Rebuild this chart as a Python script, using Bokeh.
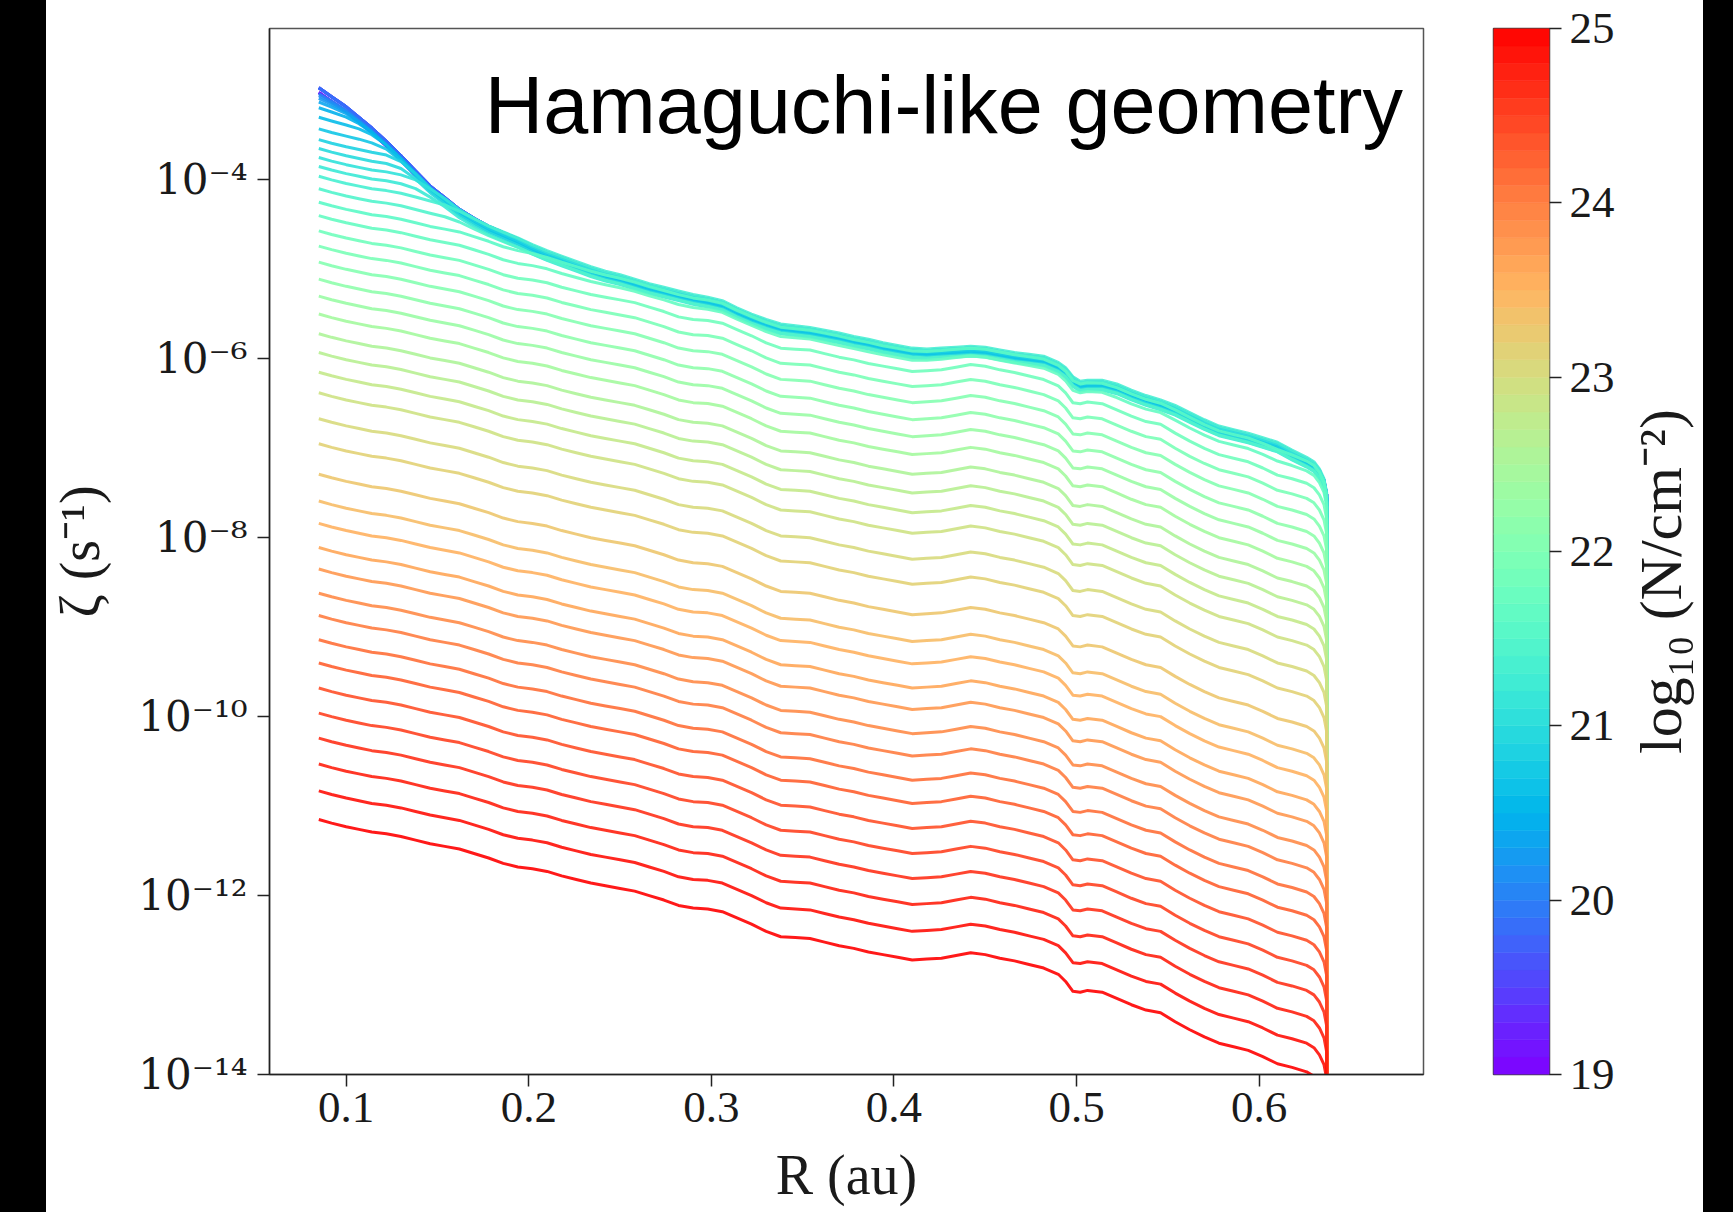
import numpy as np
from bokeh.plotting import figure
from bokeh.models import (FixedTicker, CustomJSTickFormatter, Label, Div,
                          ColumnDataSource, Range1d)
from bokeh.layouts import row
from bokeh.embed import file_html
from bokeh.resources import INLINE

# ---------------- data ----------------
# common radius grid (au)
R_AU = [0.085, 0.092, 0.100, 0.107, 0.114, 0.122, 0.130, 0.138, 0.146, 0.154,
        0.162, 0.170, 0.178, 0.186, 0.194, 0.202, 0.210, 0.218, 0.226, 0.234,
        0.242, 0.250, 0.258, 0.266, 0.274, 0.282, 0.290, 0.298, 0.306, 0.314,
        0.322, 0.330, 0.338, 0.346, 0.354, 0.362, 0.370, 0.378, 0.386, 0.394,
        0.402, 0.410, 0.418, 0.426, 0.434, 0.442, 0.450, 0.458, 0.466, 0.474,
        0.482, 0.490, 0.494, 0.498, 0.502, 0.506, 0.514, 0.522, 0.530, 0.538,
        0.546, 0.554, 0.562, 0.570, 0.578, 0.586, 0.594, 0.602, 0.610, 0.618,
        0.626]

# log10 zeta of the deepest curve (log10 N = 25) along R_AU
LOGZETA_DEEPEST = [-11.15, -11.19, -11.23, -11.26, -11.29, -11.31, -11.34, -11.38, -11.42, -11.45,
                   -11.48, -11.53, -11.58, -11.64, -11.68, -11.70, -11.73, -11.78, -11.82, -11.86,
                   -11.89, -11.92, -11.95, -12.00, -12.05, -12.11, -12.14, -12.15, -12.18, -12.25,
                   -12.32, -12.40, -12.46, -12.47, -12.48, -12.52, -12.56, -12.59, -12.63, -12.66,
                   -12.69, -12.72, -12.71, -12.70, -12.67, -12.64, -12.66, -12.70, -12.73, -12.77,
                   -12.81, -12.88, -12.96, -13.07, -13.08, -13.06, -13.08, -13.15, -13.22, -13.28,
                   -13.31, -13.41, -13.50, -13.58, -13.65, -13.69, -13.73, -13.80, -13.88, -13.92,
                   -13.97]

# log10 zeta of the unattenuated upper envelope (low columns) along R_AU
LOGZETA_ENVELOPE = [-2.92, -3.04, -3.16, -3.28, -3.40, -3.55, -3.71, -3.88, -4.05, -4.18,
                    -4.31, -4.41, -4.50, -4.57, -4.64, -4.72, -4.79, -4.85, -4.91, -4.97,
                    -5.02, -5.06, -5.11, -5.16, -5.20, -5.24, -5.28, -5.31, -5.35, -5.43,
                    -5.50, -5.56, -5.61, -5.63, -5.65, -5.68, -5.71, -5.75, -5.78, -5.82,
                    -5.85, -5.88, -5.89, -5.88, -5.87, -5.86, -5.87, -5.90, -5.93, -5.95,
                    -5.97, -6.04, -6.10, -6.20, -6.25, -6.24, -6.24, -6.28, -6.35, -6.41,
                    -6.46, -6.52, -6.60, -6.68, -6.75, -6.79, -6.83, -6.88, -6.93, -7.02,
                    -7.10]

# column densities of the curves (log10 N / cm^-2)
LOGN = [19.00, 19.12, 19.24, 19.37, 19.49, 19.61, 19.73, 19.86, 19.98, 20.10,
        20.22, 20.35, 20.47, 20.59, 20.71, 20.84, 20.96, 21.08, 21.20, 21.33,
        21.45, 21.57, 21.69, 21.82, 21.94, 22.06, 22.18, 22.31, 22.43, 22.55,
        22.67, 22.80, 22.92, 23.04, 23.16, 23.29, 23.41, 23.53, 23.65, 23.78,
        23.90, 24.02, 24.14, 24.27, 24.39, 24.51, 24.63, 24.76, 24.88, 25.00]

# log10 zeta of each curve at the inner edge R = 0.085 au
LOGZETA_START = [-2.95, -2.95, -2.95, -2.89, -2.89, -2.89, -2.89, -2.89, -3.00, -3.03,
                 -3.07, -3.12, -3.19, -3.30, -3.43, -3.55, -3.65, -3.75, -3.85, -3.96,
                 -4.10, -4.25, -4.40, -4.57, -4.74, -4.92, -5.11, -5.30, -5.50, -5.72,
                 -5.93, -6.15, -6.38, -6.67, -6.95, -7.29, -7.59, -7.84, -8.11, -8.35,
                 -8.62, -8.87, -9.14, -9.40, -9.68, -9.96, -10.24, -10.53, -10.83, -11.15]

# depth (dex) of each curve below the envelope once it has merged into the top band
BAND_DEPTH = [0.07, 0.07, 0.07, 0.02, 0.02, 0.02, 0.02, 0.02, 0.05, 0.06,
              0.06, 0.06, 0.06, 0.05, 0.07, 0.04, 0.09, 0.02, 0.11, 0.00,
              0.10, 0.01, 0.08, 0.00, 0.00, 0.00, 0.00, 0.00, 0.00, 0.00,
              0.00, 0.00, 0.00, 0.00, 0.00, 0.00, 0.00, 0.00, 0.00, 0.00,
              0.00, 0.00, 0.00, 0.00, 0.00, 0.00, 0.00, 0.00, 0.00, 0.00]

# outer edge: rounded fall-off then vertical drop
END_R = [0.630, 0.633, 0.6355, 0.637, 0.6372]
END_DROP = [-0.05, -0.13, -0.24, -0.40, None]
FLOOR_LOG = -16.0

X_TICKS = [0.1, 0.2, 0.3, 0.4, 0.5, 0.6]
Y_TICKS = [1e-14, 1e-12, 1e-10, 1e-8, 1e-6, 1e-4]
CBAR_TICKS = [19, 20, 21, 22, 23, 24, 25]
CBAR_LOW, CBAR_HIGH = 19.0, 25.0


# ---------------- helpers ----------------
def rainbow(t):
    t = min(max(t, 0.0), 1.0)
    r = min(abs(2 * t - 0.5), 1.0)
    g = np.sin(np.pi * t)
    b = np.cos(np.pi * t / 2)
    return "#%02x%02x%02x" % (int(round(r * 255)), int(round(g * 255)), int(round(b * 255)))


SERIF = "Liberation Serif"
TXT = "#1a1a1a"
TOP, FRAME_H, BOTTOM = 28, 1046, 138

bottom0 = LOGZETA_DEEPEST[0]
env = np.array(LOGZETA_ENVELOPE)
shape = np.array(LOGZETA_DEEPEST) - bottom0
pw = 6.0

xs, ys, cols = [], [], []
for n, s, d in zip(LOGN, LOGZETA_START, BAND_DEPTH):
    base = s + shape
    cap = env - d
    comb = -np.log10(10 ** (-pw * base) + 10 ** (-pw * cap)) / pw
    last = comb[-1]
    tail = [last + dd if dd is not None else FLOOR_LOG for dd in END_DROP]
    xs.append(list(R_AU) + END_R)
    ys.append(list(10 ** comb) + [10 ** v for v in tail])
    cols.append(rainbow((n - CBAR_LOW) / (CBAR_HIGH - CBAR_LOW)))

src = ColumnDataSource(dict(xs=xs, ys=ys, color=cols))

# ---------------- main figure ----------------
p = figure(frame_width=1154, frame_height=FRAME_H,
           x_range=Range1d(0.058, 0.690),
           y_range=Range1d(1e-14, 10 ** -2.308),
           y_axis_type="log",
           output_backend="svg", toolbar_location=None,
           min_border_left=222, min_border_right=50,
           min_border_top=TOP, min_border_bottom=BOTTOM)
p.background_fill_color = "white"
p.border_fill_color = "white"
p.outline_line_color = "#555555"
p.outline_line_width = 1.5
p.grid.visible = False

p.multi_line(xs="xs", ys="ys", line_color="color", line_width=3,
             line_alpha=0.9, line_join="round", source=src)

p.xaxis.ticker = FixedTicker(ticks=X_TICKS, minor_ticks=[])
p.xaxis.formatter = CustomJSTickFormatter(code="return tick.toFixed(1);")
p.yaxis.ticker = FixedTicker(ticks=Y_TICKS, minor_ticks=[])
p.yaxis.formatter = CustomJSTickFormatter(code="""
const sup = {"-":"\u207b","0":"\u2070","1":"\u00b9","2":"\u00b2","3":"\u00b3","4":"\u2074",
             "5":"\u2075","6":"\u2076","7":"\u2077","8":"\u2078","9":"\u2079"};
const e = Math.round(Math.log10(tick));
return "10" + String(e).split("").map(c => sup[c]).join("");
""")

for ax in (p.xaxis[0], p.yaxis[0]):
    ax.axis_line_color = "#222222"
    ax.axis_line_width = 1.5
    ax.major_tick_line_color = "#222222"
    ax.major_tick_line_width = 1.5
    ax.major_tick_out = 12
    ax.major_tick_in = 0
    ax.minor_tick_line_color = None
    ax.major_label_text_font = SERIF
    ax.major_label_text_font_size = "45px"
    ax.major_label_text_color = TXT
    ax.axis_label_text_font = SERIF
    ax.axis_label_text_font_size = "56px"
    ax.axis_label_text_font_style = "normal"
    ax.axis_label_text_color = TXT

p.yaxis.major_label_text_font = "DejaVu Serif"
p.yaxis.major_label_text_font_size = "42px"

p.xaxis.axis_label = "R (au)"
p.xaxis.major_label_standoff = 6
p.xaxis.axis_label_standoff = 19
p.yaxis.axis_label = "\u03b6 (s\u207b\u00b9)"
p.yaxis.major_label_standoff = 10
p.yaxis.axis_label_standoff = 24

p.add_layout(Label(x=0.6788, y=6.8e-4, text="Hamaguchi-like geometry",
                   text_font="Liberation Sans", text_font_size="81px",
                   text_color="black", text_align="right",
                   text_baseline="alphabetic"))

# ---------------- colorbar figure ----------------
edges = np.linspace(CBAR_LOW, CBAR_HIGH, 61)
cb_src = ColumnDataSource(dict(
    bottom=edges[:-1], top=edges[1:],
    color=[rainbow((0.5 * (a + b) - CBAR_LOW) / (CBAR_HIGH - CBAR_LOW))
           for a, b in zip(edges[:-1], edges[1:])]))

cb = figure(frame_width=56, frame_height=FRAME_H,
            x_range=Range1d(0, 1), y_range=Range1d(CBAR_LOW, CBAR_HIGH),
            x_axis_location=None, y_axis_location="right",
            output_backend="svg", toolbar_location=None,
            min_border_left=20, min_border_right=74,
            min_border_top=TOP, min_border_bottom=BOTTOM)
cb.quad(left=0, right=1, bottom="bottom", top="top", fill_color="color",
        line_color="color", line_width=0.5, source=cb_src)
cb.grid.visible = False
cb.outline_line_color = "#444444"
cb.outline_line_width = 1.5
cb.border_fill_color = "white"
ya = cb.yaxis[0]
ya.ticker = FixedTicker(ticks=CBAR_TICKS, minor_ticks=[])
ya.axis_line_color = None
ya.major_tick_line_color = "#222222"
ya.major_tick_line_width = 1.5
ya.major_tick_out = 12
ya.major_tick_in = 0
ya.minor_tick_line_color = None
ya.major_label_text_font = SERIF
ya.major_label_text_font_size = "45px"
ya.major_label_text_color = TXT
ya.major_label_standoff = 8

# ---------------- colorbar title (left axis label of a thin strip) ----------------
CB_LABEL = "log\u2081\u2080 (N/cm\u207b\u00b2)\u00a0\u00a0\u00a0\u00a0"
lab = figure(frame_width=2, frame_height=FRAME_H,
             x_range=Range1d(0, 1), y_range=Range1d(0, 1),
             x_axis_location=None, y_axis_location="left",
             output_backend="svg", toolbar_location=None,
             min_border_left=78, min_border_right=0,
             min_border_top=TOP, min_border_bottom=BOTTOM)
lab.outline_line_color = None
lab.grid.visible = False
lab.background_fill_color = "white"
lab.border_fill_color = "white"
la = lab.yaxis[0]
la.ticker = FixedTicker(ticks=[], minor_ticks=[])
la.axis_line_color = None
la.major_tick_line_color = None
la.minor_tick_line_color = None
la.major_tick_out = 0
la.major_label_standoff = 0
la.axis_label = CB_LABEL
la.axis_label_text_font = SERIF
la.axis_label_text_font_size = "60px"
la.axis_label_text_font_style = "normal"
la.axis_label_text_color = TXT
la.axis_label_standoff = 8

left_bar = Div(width=46, height=1212, margin=(0, 0, 0, 0),
               styles={"background-color": "black"})
right_bar = Div(width=31, height=1212, margin=(0, 0, 0, 0),
                styles={"background-color": "black"})

layout = row(left_bar, p, cb, lab, right_bar, spacing=0)

open("out.html", "w").write(file_html(layout, INLINE))
